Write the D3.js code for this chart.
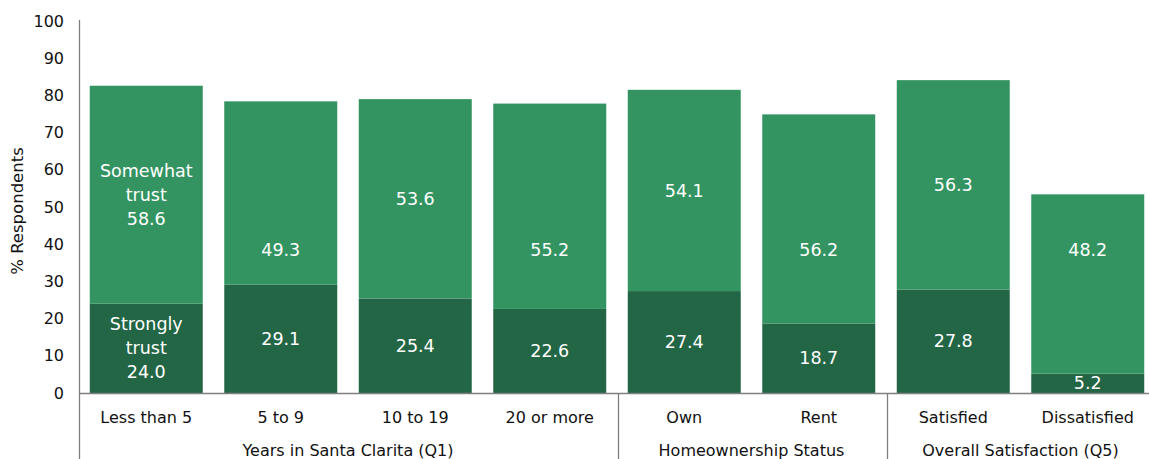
<!DOCTYPE html>
<html>
<head>
<meta charset="utf-8">
<script src="https://cdn.jsdelivr.net/npm/d3@7"></script>
<style>
  html, body { margin: 0; padding: 0; background: #fff; }
  svg { display: block; font-family: "DejaVu Sans", sans-serif; }
</style>
</head>
<body>
<svg id="chart" width="1149" height="459"></svg>
<script>
// Trust in the city, by respondent segment (stacked %)
const categories = ["Less than 5", "5 to 9", "10 to 19", "20 or more", "Own", "Rent", "Satisfied", "Dissatisfied"];
const groups = [
  { name: "Years in Santa Clarita (Q1)", members: ["Less than 5", "5 to 9", "10 to 19", "20 or more"] },
  { name: "Homeownership Status", members: ["Own", "Rent"] },
  { name: "Overall Satisfaction (Q5)", members: ["Satisfied", "Dissatisfied"] }
];
const stronglyTrust = [24.0, 29.1, 25.4, 22.6, 27.4, 18.7, 27.8, 5.2];
const somewhatTrust = [58.6, 49.3, 53.6, 55.2, 54.1, 56.2, 56.3, 48.2];
const yTicks = [0, 10, 20, 30, 40, 50, 60, 70, 80, 90, 100];

const svg = d3.select("#chart");
const margin = { left: 79, right: -6, top: 21 };
const baseY = 393;
const W = 1149;

const x = d3.scaleBand().domain(categories)
  .range([margin.left, W - margin.right])
  .paddingInner(0.16).paddingOuter(0.08);
const y = d3.scaleLinear().domain([0, 100]).range([baseY, margin.top]);

const colStrong = "#236645";
const colSome = "#339462";
const axisCol = "#7f7f7f";
const txtCol = "#111";

const rows = categories.map((c, i) => ({ c, i, s: stronglyTrust[i], w: somewhatTrust[i] }));

// bars
const g = svg.append("g");
g.selectAll("rect.strong").data(rows).join("rect")
  .attr("x", d => x(d.c)).attr("width", x.bandwidth())
  .attr("y", d => y(d.s)).attr("height", d => y(0) - y(d.s))
  .attr("fill", colStrong);
g.selectAll("rect.some").data(rows).join("rect")
  .attr("x", d => x(d.c)).attr("width", x.bandwidth())
  .attr("y", d => y(d.s + d.w)).attr("height", d => y(d.s) - y(d.s + d.w))
  .attr("fill", colSome);

// y axis
const yAxis = d3.axisLeft(y).tickValues(yTicks).tickSize(0).tickPadding(15);
const ya = svg.append("g").attr("transform", `translate(${margin.left},0)`).call(yAxis);
ya.select(".domain").remove();
ya.selectAll("text").attr("font-size", 16).attr("fill", txtCol).attr("font-family", "DejaVu Sans");
svg.append("line").attr("x1", margin.left + 0.5).attr("x2", margin.left + 0.5)
  .attr("y1", margin.top - 1).attr("y2", 459).attr("stroke", axisCol).attr("stroke-width", 1.3);

// baseline
svg.append("line").attr("x1", margin.left).attr("x2", W)
  .attr("y1", baseY + 0.5).attr("y2", baseY + 0.5).attr("stroke", axisCol).attr("stroke-width", 1.3);

// y title
svg.append("text").attr("transform", `translate(23,${(baseY + margin.top) / 2 + 4}) rotate(-90)`)
  .attr("text-anchor", "middle").attr("font-size", 16.5).attr("fill", txtCol)
  .text("% Respondents");

// category labels
svg.append("g").selectAll("text").data(categories).join("text")
  .attr("x", d => x(d) + x.bandwidth() / 2).attr("y", 423)
  .attr("text-anchor", "middle").attr("font-size", 16).attr("fill", txtCol)
  .text(d => d);

// group labels and separators
groups.forEach((gr, gi) => {
  const first = gr.members[0], last = gr.members[gr.members.length - 1];
  const x0 = x(first) - x.step() * x.paddingInner() / 2;
  const x1 = x(last) + x.bandwidth() + x.step() * x.paddingInner() / 2;
  svg.append("text").attr("x", (x0 + x1) / 2).attr("y", 456)
    .attr("text-anchor", "middle").attr("font-size", 16).attr("fill", txtCol)
    .text(gr.name);
  if (gi > 0) {
    svg.append("line").attr("x1", Math.round(x0) + 1.5).attr("x2", Math.round(x0) + 1.5)
      .attr("y1", baseY).attr("y2", 459).attr("stroke", axisCol).attr("stroke-width", 1.3);
  }
});

// value labels
const lh = 24;
function multiLabel(cx, cy, lines) {
  const t = svg.append("text").attr("text-anchor", "middle").attr("font-size", 17.5)
    .attr("fill", "#fff").attr("x", cx);
  const y0 = cy - (lines.length - 1) * lh / 2;
  lines.forEach((ln, k) => {
    t.append("tspan").attr("x", cx).attr("y", y0 + k * lh).attr("dy", "0.35em").text(ln);
  });
}
rows.forEach(d => {
  const cx = x(d.c) + x.bandwidth() / 2;
  // staggered positions for the upper segment labels
  const someMid = d.i % 2 === 0 ? y(d.s + d.w / 2) : y(Math.max(d.s + 8, 38.5));
  const strongMid = y(d.s / 2);
  if (d.i === 0) {
    multiLabel(cx, someMid, ["Somewhat", "trust", d.w.toFixed(1)]);
    multiLabel(cx, strongMid, ["Strongly", "trust", d.s.toFixed(1)]);
  } else {
    multiLabel(cx, someMid, [d.w.toFixed(1)]);
    multiLabel(cx, strongMid, [d.s.toFixed(1)]);
  }
});
</script>
</body>
</html>
